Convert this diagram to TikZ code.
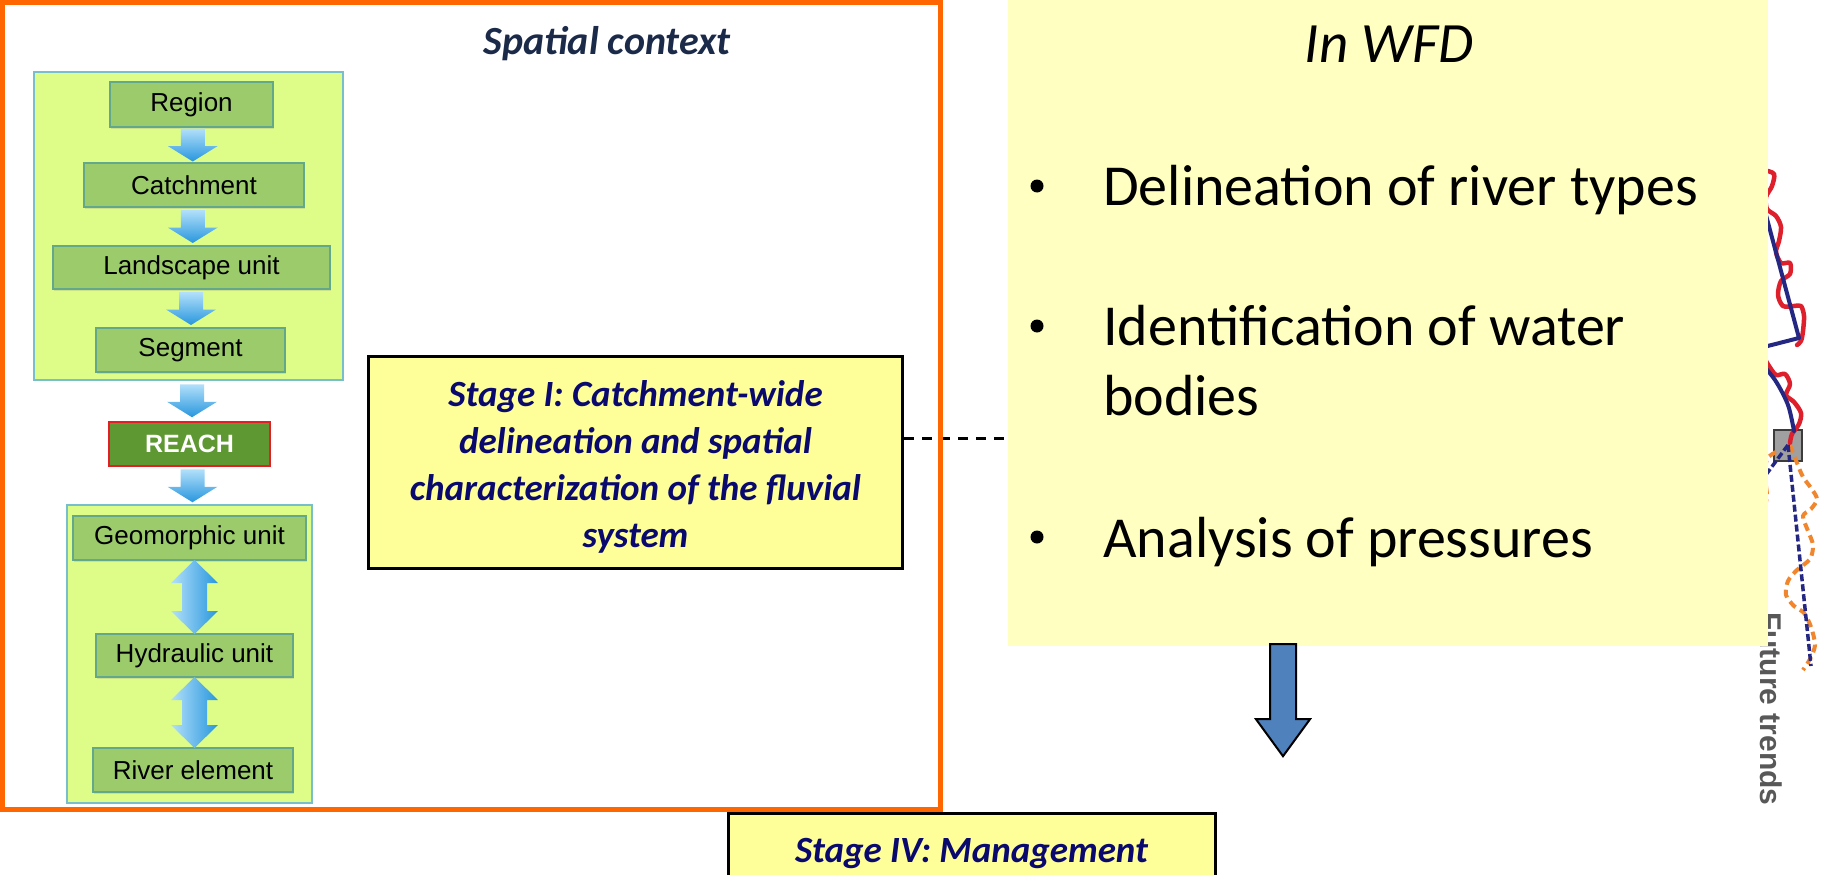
\documentclass[tikz,border=0pt]{standalone}
\usepackage{fontspec}
\setmainfont{Carlito}
\newfontfamily\arialfont{Liberation Sans}
\usetikzlibrary{calc,shadows}

\definecolor{frameorange}{RGB}{255,102,0}
\definecolor{panelfill}{RGB}{222,252,136}
\definecolor{panelline}{RGB}{120,190,205}
\definecolor{boxfill}{RGB}{155,203,107}
\definecolor{boxline}{RGB}{100,168,140}
\definecolor{reachfill}{RGB}{94,152,50}
\definecolor{reachline}{RGB}{228,30,36}
\definecolor{arrlight}{RGB}{178,224,250}
\definecolor{arrdark}{RGB}{40,150,222}
\definecolor{stagefill}{RGB}{255,255,153}
\definecolor{wfdfill}{RGB}{255,255,194}
\definecolor{stagetext}{RGB}{10,10,110}
\definecolor{titletext}{RGB}{28,42,74}
\definecolor{bluearrow}{RGB}{79,129,189}
\definecolor{riverred}{RGB}{222,32,44}
\definecolor{rivernavy}{RGB}{36,40,130}
\definecolor{riverorange}{RGB}{240,134,46}
\definecolor{trendgray}{RGB}{88,88,88}
\definecolor{gaugegray}{RGB}{160,160,160}

\tikzset{
  panel/.style={draw=panelline, line width=1.5pt, fill=panelfill, inner sep=0pt},
  unitbox/.style={draw=boxline, line width=1.5pt, fill=boxfill, inner sep=0pt,
    font=\arialfont\fontsize{26}{30}\selectfont,
    drop shadow={shadow xshift=1pt, shadow yshift=-2pt, opacity=0.2}},
  reachbox/.style={draw=reachline, line width=2.5pt, fill=reachfill, inner sep=0pt,
    text=white, font=\arialfont\bfseries\fontsize{25}{30}\selectfont},
  stagebox/.style={draw=black, line width=3pt, fill=stagefill, inner sep=0pt},
  stagetxt/.style={text=stagetext, font=\bfseries\itshape\fontsize{37}{47}\selectfont},
  wfdtxt/.style={font=\fontsize{58}{70}\selectfont, inner sep=0pt},
  bulletdot/.style={circle, fill=black, inner sep=0pt, minimum size=13pt},
  redline/.style={riverred, line width=4.5pt, line cap=round, line join=round},
  navyline/.style={rivernavy, line width=4pt, line cap=round, line join=round},
  orangedash/.style={riverorange, line width=4pt, dash pattern=on 8pt off 5pt},
  navydash/.style={rivernavy, line width=3.5pt, dash pattern=on 7pt off 3pt},
  pics/downblock/.style={code={
    \shade[top color=arrlight, bottom color=arrdark]
      (-12,-16.5) -- (12,-16.5) -- (12,1) -- (25,1) -- (0,16.5) -- (-25,1) -- (-12,1) -- cycle;
  }},
  pics/twinblock/.style={code={
    \shade[left color=arrlight, right color=arrdark]
      (0,-#1/2) -- (23.5,-#1/2+23) -- (12.5,-#1/2+23) -- (12.5,#1/2-23) -- (23.5,#1/2-23)
      -- (0,#1/2) -- (-23.5,#1/2-23) -- (-12.5,#1/2-23) -- (-12.5,-#1/2+23) -- (-23.5,-#1/2+23) -- cycle;
  }},
}

\begin{document}
\begin{tikzpicture}[x=1pt,y=-1pt]
\useasboundingbox (0,0) rectangle (1821,875);
\fill[white] (0,0) rectangle (1821,875);

% ---------- river sketch at the right border ----------
\node[draw={rgb,255:red,60;green,60;blue,60}, line width=2pt, fill=gaugegray,
      minimum width=28pt, minimum height=31pt, inner sep=0pt] (gauge) at (1788,445) {};
\draw[redline, smooth] plot coordinates {
  (1758,168) (1764,170) (1774,174) (1772,186) (1766,197) (1767,209) (1776,216) (1781,227)
  (1779,241) (1776,252) (1781,263) (1790,263) (1790,274) (1781,281) (1778,295) (1783,306)
  (1794,306) (1801,306) (1804,316) (1803,331) (1801,341) (1797,345)};
\draw[redline, smooth] plot coordinates {
  (1758,352) (1764,358) (1769,366) (1776,375) (1785,374) (1790,384) (1786,395) (1794,402)
  (1801,413) (1799,424) (1792,434) (1790,443)};
\draw[navyline] (1756,178) -- (1799,338) -- (1756,349);
\draw[navyline, smooth] plot coordinates {(1756,357) (1775,380) (1788,405) (1794,431)};
\draw[orangedash, smooth] plot coordinates {
  (1790,445) (1797,463) (1803,477) (1811,488) (1817,499) (1811,509) (1803,516) (1808,531)
  (1813,545) (1810,559) (1797,570) (1788,581) (1786,595) (1794,606) (1804,613) (1811,627)
  (1815,645) (1810,659) (1803,670)};
\draw[orangedash, smooth] plot coordinates {
  (1776,452) (1767,459) (1765,477) (1767,495) (1765,506)};
\draw[navydash] (gauge.center) -- (1811,666);
\draw[navydash] (gauge.center) -- (1762,480);
\node[rotate=-90, text=trendgray, font=\arialfont\bfseries\fontsize{30}{36}\selectfont,
      inner sep=0pt] (trends) at (1771,709) {Future trends};

% ---------- WFD panel ----------
\node[fill=wfdfill, minimum width=760pt, minimum height=646pt, inner sep=0pt] (wfd) at (1388,323) {};
\node[anchor=base, font=\itshape\fontsize{57}{68}\selectfont, inner sep=0pt] (wfdtitle) at (1389,63) {In WFD};
\node[bulletdot] (dot1) at (1037,186) {};
\node[bulletdot] (dot2) at (1037,326) {};
\node[bulletdot] (dot3) at (1037,537) {};
\node[wfdtxt, anchor=base west] (item1) at (1103,205) {Delineation of river types};
\node[wfdtxt, anchor=base west] (item2) at (1103,345) {Identification of water};
\node[wfdtxt, anchor=base west] (item2b) at (1103,415) {bodies};
\node[wfdtxt, anchor=base west] (item3) at (1103,557) {Analysis of pressures};

% arrow below the WFD panel
\draw[fill=bluearrow, draw=black, line width=2pt]
  ($(wfd.south)+(-118,-2)$) -- ($(wfd.south)+(-92,-2)$) -- ($(wfd.south)+(-92,73)$)
  -- ($(wfd.south)+(-78,73)$) -- ($(wfd.south)+(-105,110)$) -- ($(wfd.south)+(-132,73)$)
  -- ($(wfd.south)+(-118,73)$) -- cycle;

% ---------- Stage boxes ----------
\node[stagebox, minimum width=534pt, minimum height=212pt] (stage1) at (635.5,462.5) {};
\node[stagetxt, align=center, inner sep=0pt] (stage1txt) at (635.5,467)
  {Stage I: Catchment-wide\\delineation and spatial\\characterization of the fluvial\\system};
\coordinate (linkstart) at ($(stage1.east)+(0,-24)$);
\draw[black, line width=2.5pt, dash pattern=on 10pt off 8pt] (linkstart) -- (linkstart -| wfd.west);

\node[stagebox, minimum width=487pt, minimum height=120pt, anchor=north] (stage4) at (971.5,811.5) {};
\node[stagetxt, anchor=base, inner sep=0pt] (stage4txt) at ($(stage4.north)+(0,51)$) {Stage IV: Management};

% ---------- spatial hierarchy ----------
\node[panel, minimum width=309pt, minimum height=308pt] (ptop) at (188.5,226) {};
\node[panel, minimum width=245pt, minimum height=298pt] (pbot) at (189.5,654) {};

\node[unitbox, minimum width=163pt, minimum height=45pt] (region) at (191.5,104.5) {Region};
\node[unitbox, minimum width=220pt, minimum height=44pt] (catch) at (194,185) {Catchment};
\node[unitbox, minimum width=277pt, minimum height=43pt] (land) at (191.5,267.5) {Landscape unit};
\node[unitbox, minimum width=189pt, minimum height=44pt] (seg) at (190.5,350) {Segment};
\node[reachbox, minimum width=161pt, minimum height=44pt] (reach) at (189.5,444) {REACH};
\node[unitbox, minimum width=233pt, minimum height=44pt] (geo) at (189.5,538) {Geomorphic unit};
\node[unitbox, minimum width=197pt, minimum height=43pt] (hyd) at (194.5,655.5) {Hydraulic unit};
\node[unitbox, minimum width=200pt, minimum height=44pt] (river) at (193,770) {River element};

\pic at ($(region.south)!0.5!(catch.north)$) {downblock};
\pic at ($(catch.south)!0.5!(land.north)$) {downblock};
\pic at ($(land.south)!0.5!(seg.north)$) {downblock};
\pic at ($(ptop.south)!0.5!(reach.north)+(3,0)$) {downblock};
\pic at ($(reach.south)!0.5!(pbot.north)+(3,0)$) {downblock};
\pic at ($(geo.south -| hyd.center)!0.5!(hyd.north)$) {twinblock=74};
\pic at ($(hyd.south)!0.5!(river.north -| hyd.center)$) {twinblock=71};

% ---------- frame ----------
\node[draw=frameorange, line width=5pt, minimum width=938pt, minimum height=807pt,
      inner sep=0pt] (frame) at (471.25,406) {};
\node[anchor=base, text=titletext, font=\bfseries\itshape\fontsize{40}{48}\selectfont,
      inner sep=0pt] (spatial) at (607,55) {Spatial context};
\end{tikzpicture}
\end{document}
